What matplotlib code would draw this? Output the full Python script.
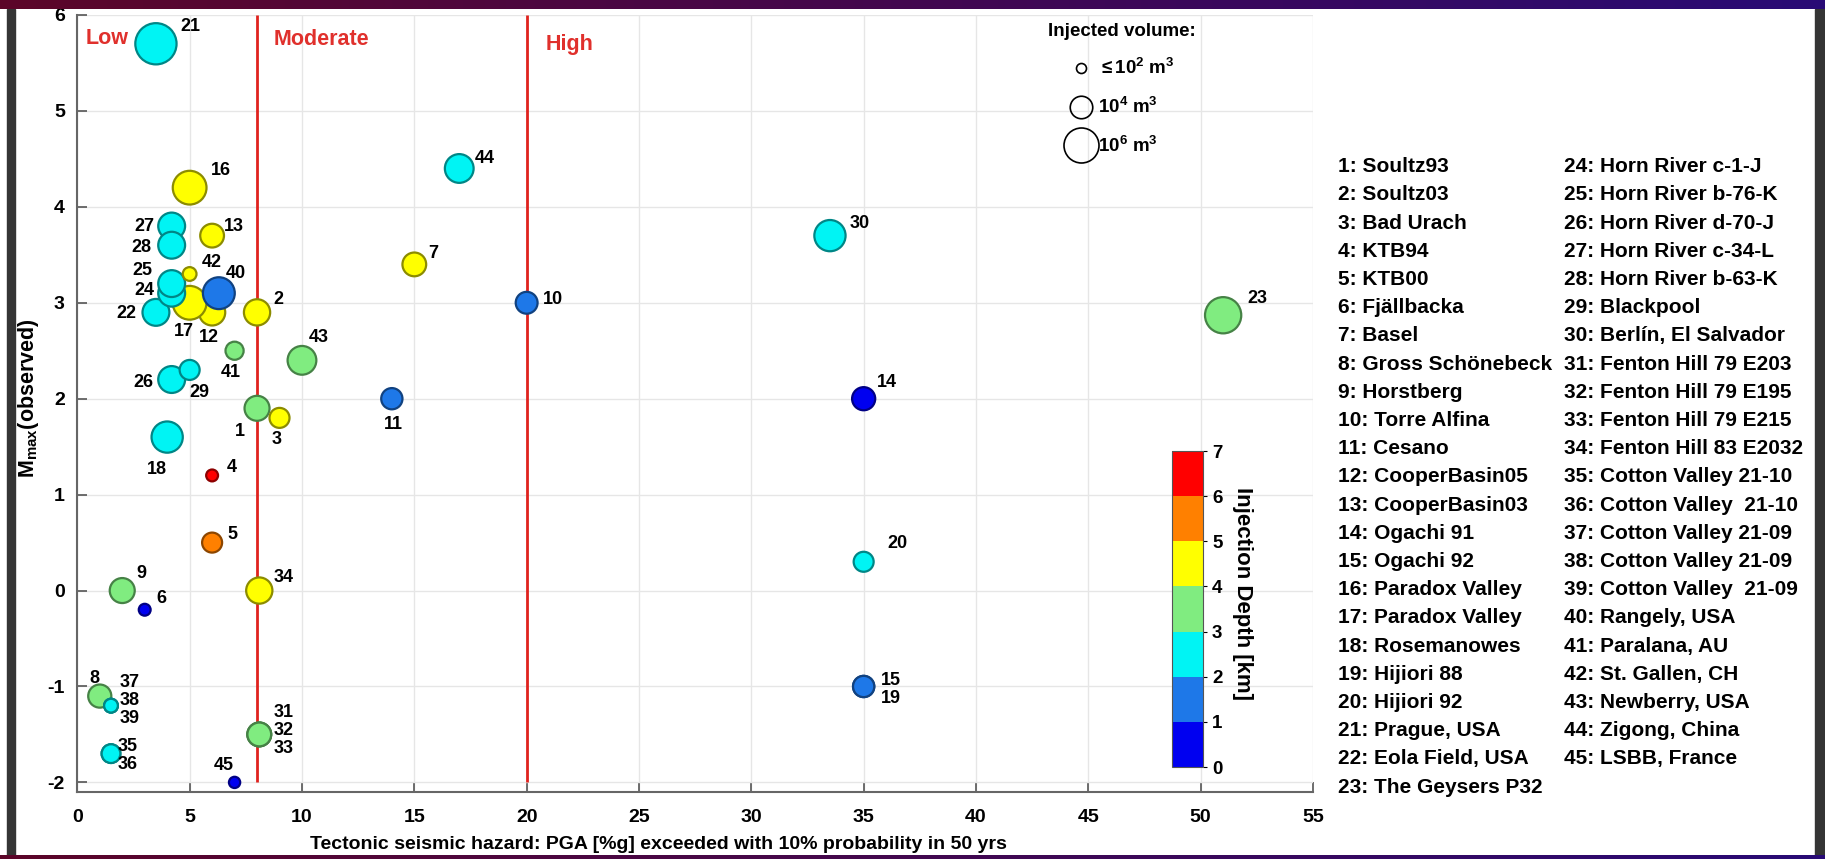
import numpy as np
import matplotlib
matplotlib.use('Agg')
import matplotlib.pyplot as plt
from matplotlib.colors import ListedColormap, BoundaryNorm
from matplotlib.lines import Line2D
from matplotlib.cm import ScalarMappable

plt.rcParams['font.family'] = ['Liberation Sans', 'DejaVu Sans']
plt.rcParams['font.weight'] = 'bold'
plt.rcParams['axes.labelweight'] = 'bold'
plt.rcParams['axes.unicode_minus'] = False
plt.rcParams['mathtext.fontset'] = 'custom'
plt.rcParams['mathtext.rm'] = 'Liberation Sans:bold'
plt.rcParams['mathtext.bf'] = 'Liberation Sans:bold'
plt.rcParams['mathtext.it'] = 'Liberation Sans:bold'

# ---- data ----
site_names = ['Soultz93', 'Soultz03', 'Bad Urach', 'KTB94', 'KTB00', 'Fjällbacka', 'Basel',
              'Gross Schönebeck', 'Horstberg', 'Torre Alfina', 'Cesano', 'CooperBasin05',
              'CooperBasin03', 'Ogachi 91', 'Ogachi 92', 'Paradox Valley', 'Paradox Valley',
              'Rosemanowes', 'Hijiori 88', 'Hijiori 92', 'Prague, USA', 'Eola Field, USA',
              'The Geysers P32', 'Horn River c-1-J', 'Horn River b-76-K', 'Horn River d-70-J',
              'Horn River c-34-L', 'Horn River b-63-K', 'Blackpool', 'Berlín, El Salvador',
              'Fenton Hill 79 E203', 'Fenton Hill 79 E195', 'Fenton Hill 79 E215',
              'Fenton Hill 83 E2032', 'Cotton Valley 21-10', 'Cotton Valley  21-10',
              'Cotton Valley 21-09', 'Cotton Valley 21-09', 'Cotton Valley  21-09',
              'Rangely, USA', 'Paralana, AU', 'St. Gallen, CH', 'Newberry, USA',
              'Zigong, China', 'LSBB, France']
pga = [8.0, 8.0, 9.0, 6.0, 6.0, 3.0, 15.0, 1.0, 2.0, 20.0, 14.0, 6.0, 6.0, 35.0, 35.0,
       5.0, 5.0, 4.0, 35.0, 35.0, 3.5, 3.5, 51.0, 4.2, 4.2, 4.2, 4.2, 4.2, 5.0, 33.5,
       8.1, 8.1, 8.1, 8.1, 1.5, 1.5, 1.5, 1.5, 1.5, 6.3, 7.0, 5.0, 10.0, 17.0, 7.0]
mmax = [1.9, 2.9, 1.8, 1.2, 0.5, -0.2, 3.4, -1.1, 0.0, 3.0, 2.0, 2.9, 3.7, 2.0, -1.0,
        4.2, 3.0, 1.6, -1.0, 0.3, 5.7, 2.9, 2.87, 3.1, 3.2, 2.2, 3.8, 3.6, 2.3, 3.7,
        -1.5, -1.5, -1.5, 0.0, -1.7, -1.7, -1.2, -1.2, -1.2, 3.1, 2.5, 3.3, 2.4, 4.4, -2.0]
depth_km = [3.5, 4.7, 4.4, 6.5, 5.5, 0.5, 4.7, 3.8, 3.8, 1.5, 1.5, 4.3, 4.4, 0.8, 1.1,
            4.3, 4.3, 2.5, 1.8, 2.2, 2.5, 2.5, 3.3, 2.5, 2.5, 2.5, 2.5, 2.5, 2.5, 2.5,
            3.5, 3.5, 3.5, 4.5, 2.7, 2.7, 2.7, 2.7, 2.7, 1.9, 3.7, 4.4, 3.2, 2.5, 0.5]
log_volume = [4.4, 4.6, 3.6, 2.3, 3.6, 2.3, 4.2, 4.1, 4.4, 3.9, 3.8, 4.6, 4.2, 4.1, 3.8,
              5.8, 5.8, 5.4, 3.8, 3.6, 7.0, 4.7, 6.2, 4.7, 4.7, 4.7, 4.7, 4.7, 3.6, 5.4,
              4.2, 4.2, 4.2, 4.6, 3.4, 3.4, 2.6, 2.6, 2.6, 5.5, 3.3, 2.6, 5.0, 5.0, 2.2]
hazard_limits = [8, 20]
zone_names = ['Low', 'Moderate', 'High']
depth_levels = [0, 1, 2, 3, 4, 5, 6, 7]
depth_colors = ['#0000f0', '#1e78e8', '#00f4f4', '#80ec80', '#ffff00', '#ff8000', '#ff0000']
volume_keys = [2, 4, 6]
volume_labels = [r'$\leq$10$^2$ m$^3$', r'10$^4$ m$^3$', r'10$^6$ m$^3$']

# point number labels: text, site number, offset in pixels
point_labels = [('1', 1, -17, -23), ('2', 2, 21, 13), ('3', 3, -3, -22), ('4', 4, 20, 8),
                ('5', 5, 20, 8), ('6', 6, 17, 11), ('7', 7, 19, 11), ('8', 8, -5, 18),
                ('9', 9, 19, 17), ('10', 10, 26, 3), ('11', 11, 2, -26), ('12', 12, -3, -25),
                ('13', 13, 22, 9), ('14', 14, 23, 16), ('15\n19', 15, 27, -3), ('16', 16, 31, 17),
                ('17', 17, -6, -29), ('18', 18, -10, -32), ('20', 20, 34, 18), ('21', 21, 34, 17),
                ('22', 22, -30, -1), ('23', 23, 34, 17), ('24', 24, -27, 3), ('25', 25, -29, 13),
                ('26', 26, -28, -3), ('27', 27, -27, 0), ('28', 28, -30, -2), ('29', 29, 10, -23),
                ('30', 30, 30, 12), ('31\n32\n33', 31, 24, 4), ('34', 34, 24, 13),
                ('35\n36', 35, 17, -2), ('37\n38\n39', 37, 19, 5), ('40', 40, 17, 20),
                ('41', 41, -4, -22), ('42', 42, 22, 11), ('43', 43, 17, 23), ('44', 44, 26, 10),
                ('45', 45, -11, 17)]


def marker_diam(lv):
    # diameter in pixels from log10 of injected volume
    return 10 + 6.25 * (np.asarray(lv) - 2)


W, H = 1825, 859
fig = plt.figure(figsize=(W / 100, H / 100), dpi=100)
fig.patch.set_facecolor('white')

ax = fig.add_axes([77.3 / W, 1 - 792 / H, (1313 - 77.3) / W, (792 - 15) / H])

cmap = ListedColormap(depth_colors)
norm = BoundaryNorm(depth_levels, cmap.N)
face = cmap(norm(depth_km))
edge = face.copy()
edge[:, :3] = edge[:, :3] * 0.55
sizes = (marker_diam(log_volume) * 0.72) ** 2

ax.vlines(hazard_limits, -2, 6, colors='#e0221e', lw=2.0, zorder=2)
ax.scatter(pga, mmax, s=sizes, c=face, edgecolors=edge, linewidths=1.6, zorder=3)

for txt, num, dx, dy in point_labels:
    ax.annotate(txt, (pga[num - 1], mmax[num - 1]), xytext=(dx, dy), textcoords='offset pixels',
                ha='center', va='center', fontsize=13, linespacing=1.1, zorder=4)

zone_x = [0.35, 8.75, 20.85]
zone_y = [5.76, 5.74, 5.69]
for name, zx, zy in zip(zone_names, zone_x, zone_y):
    ax.text(zx, zy, name, color='#e0302c', fontsize=15.5, ha='left', va='center')

ax.set_xlim(0, 55)
ax.set_ylim(-2.1, 6)
ax.set_xticks(np.arange(0, 56, 5))
ax.set_yticks(np.arange(-2, 7, 1))
ax.grid(True, color='#e6e6e6', lw=1.0)
ax.set_axisbelow(True)
ax.tick_params(direction='in', length=7, width=1.2, labelsize=14, color='#555555', pad=9)
ax.tick_params(axis='x', pad=12)
ax.spines['top'].set_visible(False)
ax.spines['right'].set_visible(False)
for s in ['left', 'bottom']:
    ax.spines[s].set_color('#666666')
    ax.spines[s].set_linewidth(1.5)

ax.set_xlabel('Tectonic seismic hazard: PGA [%g] exceeded with 10% probability in 50 yrs', fontsize=14)
ax.xaxis.set_label_coords(0.47, -0.056)
ax.set_ylabel(r'M$_{\mathbf{max}}$(observed)', fontsize=15.5)
ax.yaxis.set_label_coords(-0.029, 0.507)

# injected volume key
handles = [Line2D([], [], ls='none', marker='o', mfc='none', mec='black', mew=1.2,
                  markersize=marker_diam(v) * 0.72) for v in volume_keys]
leg = ax.legend(handles, volume_labels, title='Injected volume:', loc='upper center',
                bbox_to_anchor=(0.845, 1.0), frameon=False, fontsize=13.5, title_fontsize=13.5,
                labelspacing=1.0, handlelength=1.3, handletextpad=0.25, borderaxespad=0.0)
leg.get_title().set_fontweight('bold')

# depth colorbar
cax = fig.add_axes([1172 / W, 1 - 767 / H, 31 / W, 316 / H])
cb = fig.colorbar(ScalarMappable(norm=norm, cmap=cmap), cax=cax, ticks=depth_levels)
cb.outline.set_edgecolor('#555555')
cb.ax.tick_params(labelsize=13.5, length=3, direction='out')
cb.set_label('Injection Depth [km]', rotation=270, fontsize=16, labelpad=22)
cb.ax.yaxis.label.set_y(0.55)

# site list
row0, step = 166.7, 28.2
for i, name in enumerate(site_names):
    col = 0 if i < 23 else 1
    row = i if i < 23 else i - 23
    fig.text((1337.5 if col == 0 else 1564.5) / W, 1 - (row0 + row * step) / H,
             '%d: %s' % (i + 1, name), fontsize=15, ha='left', va='center')

# screenshot frame
grad = np.linspace(0, 1, 256)[None, :, None]
c0 = np.array([0.36, 0.02, 0.16])
c1 = np.array([0.16, 0.04, 0.46])
bar = c0 + (c1 - c0) * grad
top = fig.add_axes([0, 1 - 9 / H, 1, 9 / H])
top.imshow(bar, aspect='auto')
top.axis('off')
bot = fig.add_axes([0, 0, 1, 4 / H])
bot.imshow(bar, aspect='auto')
bot.axis('off')
fig.add_artist(plt.Rectangle((7 / W, 4 / H), 8 / W, 1 - 13 / H, transform=fig.transFigure,
                             color='#353535', zorder=0))
fig.add_artist(plt.Rectangle((1815 / W, 4 / H), 10 / W, 1 - 13 / H, transform=fig.transFigure,
                             color='#353535', zorder=0))

plt.savefig('out.png', dpi=100)
